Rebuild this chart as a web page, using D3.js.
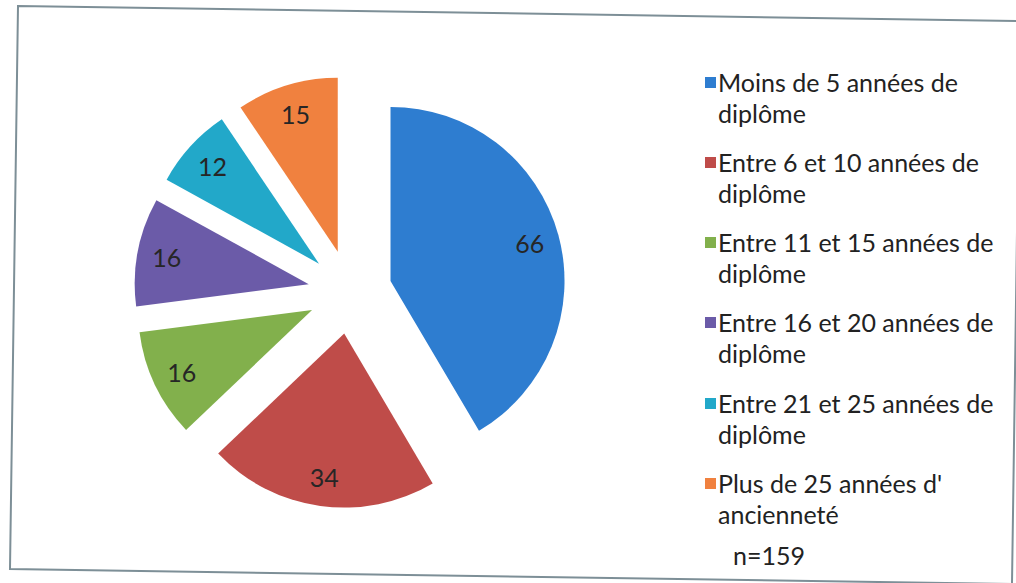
<!DOCTYPE html>
<html>
<head>
<meta charset="utf-8">
<script src="https://cdn.jsdelivr.net/npm/d3@7"></script>
<style>
  html, body { margin: 0; padding: 0; background: #ffffff; }
  svg { display: block; }
  text { font-family: Lato, "Open Sans", sans-serif; }
</style>
</head>
<body>
<svg id="chart" width="1016" height="583"></svg>
<script>
const categories = [
  ["Moins de 5 années de", "diplôme"],
  ["Entre 6 et 10 années de", "diplôme"],
  ["Entre 11 et 15 années de", "diplôme"],
  ["Entre 16 et 20 années de", "diplôme"],
  ["Entre 21 et 25 années de", "diplôme"],
  ["Plus de 25 années d'", "ancienneté"]
];
const values = [66, 34, 16, 16, 12, 15];
const colors = ["#2e7dd0", "#bf4c49", "#82b04c", "#6b5ba8", "#22a8c9", "#f0813f"];
const note = "n=159";

const svg = d3.select("#chart");

// scanned frame, slightly rotated
const frame = [[18, 6], [1020, 21], [1012, 584], [10, 569]];
svg.append("path")
  .attr("d", d3.line()(frame) + "Z")
  .attr("fill", "none")
  .attr("stroke", "#7d8f97")
  .attr("stroke-width", 2);

const cx = 350, cy = 292, r = 174, explode = 42;

const pie = d3.pie().sort(null).value(d => d).startAngle(0).endAngle(2 * Math.PI);
const arcs = pie(values);
const arc = d3.arc().innerRadius(0).outerRadius(r);

const g = svg.append("g").attr("transform", `translate(${cx},${cy})`);

const slice = g.selectAll("g.slice").data(arcs).enter().append("g")
  .attr("class", "slice")
  .attr("transform", d => {
    const m = (d.startAngle + d.endAngle) / 2;
    return `translate(${explode * Math.sin(m)},${-explode * Math.cos(m)})`;
  });

slice.append("path")
  .attr("d", arc)
  .attr("fill", (d, i) => colors[i]);

const lr = 0.83 * r;
slice.append("text")
  .attr("x", d => { const m = (d.startAngle + d.endAngle) / 2; return lr * Math.sin(m); })
  .attr("y", d => { const m = (d.startAngle + d.endAngle) / 2; return -lr * Math.cos(m); })
  .attr("text-anchor", "middle")
  .attr("dominant-baseline", "central")
  .attr("font-size", 25)
  .attr("fill", "#262626")
  .text(d => d.data);

// legend
const legendX = 705, textX = 718;
const baselines = [92, 172, 252, 332, 413, 493];
const lineGap = 31;

const leg = svg.append("g");
categories.forEach((lines, i) => {
  leg.append("rect")
    .attr("x", legendX).attr("y", baselines[i] - 15)
    .attr("width", 11).attr("height", 11)
    .attr("fill", colors[i]);
  lines.forEach((t, j) => {
    leg.append("text")
      .attr("x", textX).attr("y", baselines[i] + j * lineGap)
      .attr("font-size", 25)
      .attr("fill", "#222222")
      .text(t);
  });
});
leg.append("text")
  .attr("x", 733).attr("y", 565)
  .attr("font-size", 25)
  .attr("fill", "#222222")
  .text(note);
</script>
</body>
</html>
